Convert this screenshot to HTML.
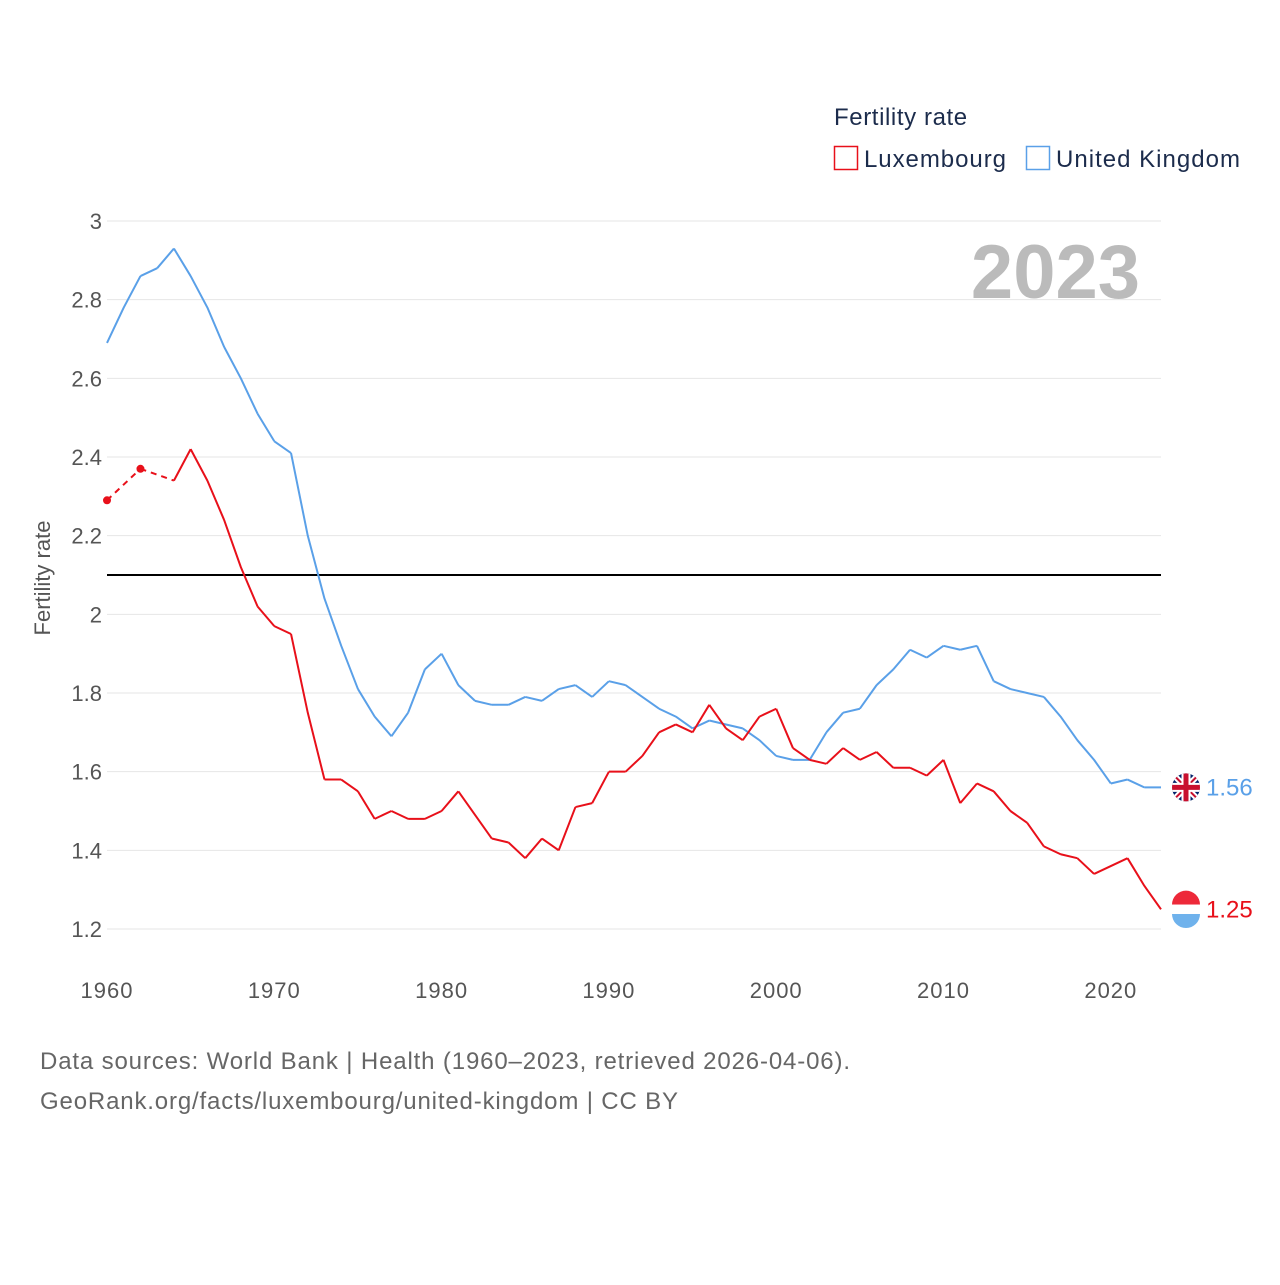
<!DOCTYPE html>
<html><head><meta charset="utf-8"><style>
body{margin:0;background:#fff;font-family:"Liberation Sans",sans-serif}
svg text{font-family:"Liberation Sans",sans-serif}
</style></head><body>
<svg id="chart" width="1280" height="1280">
<g id="grid"></g>
<g id="xaxis"></g>
<line id="refline" stroke="#000" stroke-width="2"/>
<g id="series"></g>
<text x="50" y="578" transform="rotate(-90 50 578)" fill="#555" font-size="22" text-anchor="middle">Fertility rate</text>
<text x="1140" y="298" fill="#bbb" font-size="76" font-weight="bold" text-anchor="end">2023</text>
<text x="834" y="125" fill="#1c2c4c" font-size="24" letter-spacing="0.6">Fertility rate</text>
<g>
<rect x="834.5" y="146.5" width="23" height="23" fill="none" stroke="#e8101a" stroke-width="1.5"/>
<text x="864" y="167" fill="#1c2c4c" font-size="24" textLength="142">Luxembourg</text></g>
<g>
<rect x="1026.5" y="146.5" width="23" height="23" fill="none" stroke="#5aa0e8" stroke-width="1.5"/>
<text x="1056" y="167" fill="#1c2c4c" font-size="24" textLength="184">United Kingdom</text></g>
<text x="40" y="1069" fill="#666" font-size="24" textLength="810">Data sources: World Bank | Health (1960–2023, retrieved 2026-04-06).</text>
<text x="40" y="1109" fill="#666" font-size="24" textLength="638">GeoRank.org/facts/luxembourg/united-kingdom | CC BY</text>
</svg>
<script>
const years=[];for(let y=1960;y<=2023;y++)years.push(y);
const ukValues=[2.69,2.78,2.86,2.88,2.93,2.86,2.78,2.68,2.60,2.51,2.44,2.41,2.20,2.04,1.92,1.81,1.74,1.69,1.75,1.86,1.90,1.82,1.78,1.77,1.77,1.79,1.78,1.81,1.82,1.79,1.83,1.82,1.79,1.76,1.74,1.71,1.73,1.72,1.71,1.68,1.64,1.63,1.63,1.70,1.75,1.76,1.82,1.86,1.91,1.89,1.92,1.91,1.92,1.83,1.81,1.80,1.79,1.74,1.68,1.63,1.57,1.58,1.56,1.56];
const luValues=[2.29,null,2.37,null,2.34,2.42,2.34,2.24,2.12,2.02,1.97,1.95,1.75,1.58,1.58,1.55,1.48,1.50,1.48,1.48,1.50,1.55,1.49,1.43,1.42,1.38,1.43,1.40,1.51,1.52,1.60,1.60,1.64,1.70,1.72,1.70,1.77,1.71,1.68,1.74,1.76,1.66,1.63,1.62,1.66,1.63,1.65,1.61,1.61,1.59,1.63,1.52,1.57,1.55,1.50,1.47,1.41,1.39,1.38,1.34,1.36,1.38,1.31,1.25];
const yTicks=[1.2,1.4,1.6,1.8,2,2.2,2.4,2.6,2.8,3];
const xTicks=[1960,1970,1980,1990,2000,2010,2020];
const refValue=2.1;
const NS="http://www.w3.org/2000/svg";
const X=y=>107+(y-1960)*(1161-107)/63;
const Y=v=>221+(3-v)*(929-221)/1.8;
function mk(t,a,p){const e=document.createElementNS(NS,t);for(const k in a)e.setAttribute(k,a[k]);p.appendChild(e);return e;}
const grid=document.getElementById('grid');
yTicks.forEach(v=>{
 const l=mk('line',{x1:107,x2:1161,y1:Y(v),y2:Y(v),stroke:'#e6e6e6','stroke-width':1},grid);
 
 
 const t=mk('text',{x:102,y:Y(v)+8,'text-anchor':'end',fill:'#555','font-size':22},grid);
 
 
 t.textContent=String(v);
});
const xa=document.getElementById('xaxis');
xTicks.forEach(v=>{
 const t=mk('text',{x:X(v),y:998,'text-anchor':'middle',fill:'#555','font-size':22,'letter-spacing':1},xa);
 
 
 t.textContent=String(v);
});
const rl=document.getElementById('refline');
rl.setAttribute('x1',107);rl.setAttribute('x2',1161);rl.setAttribute('y1',Y(refValue));rl.setAttribute('y2',Y(refValue));
const sg=document.getElementById('series');
function drawSeries(vals,color,name){
 let d='',pts=[];
 vals.forEach((v,i)=>{if(v!=null)pts.push([X(years[i]),Y(v),i]);});
 let dd='';
 for(let k=1;k<pts.length;k++){
  const a=pts[k-1],b=pts[k];
  const seg='M'+a[0]+','+a[1]+'L'+b[0]+','+b[1];
  if(b[2]-a[2]===1)d+=seg;else dd+=seg;
 }
 const p=mk('path',{d:d,fill:'none',stroke:color,'stroke-width':2,'stroke-linejoin':'round'},sg);
 
 
 if(dd){const q=mk('path',{d:dd,fill:'none',stroke:color,'stroke-width':2,'stroke-dasharray':'6,5'},sg);
  
  }
 pts.forEach(pt=>{
  const prev=vals[pt[2]-1],next=vals[pt[2]+1];
  if(prev==null&&next==null){
   const c=mk('circle',{cx:pt[0],cy:pt[1],r:4,fill:color},sg);
   
   
  }
 });
 const last=pts[pts.length-1];
 const t=mk('text',{x:1206,y:last[1]+8,fill:color,'font-size':24},sg);
 
 
 t.textContent=vals[vals.length-1].toFixed(2);
 return last;
}
const uk=drawSeries(ukValues,'#5aa0e8','united-kingdom');
const lu=drawSeries(luValues,'#e8101a','luxembourg');
function flagUK(cx,cy){
 const g=mk('g',{},sg);
 
 
 const cpth=mk('clipPath',{id:'cuk'},g);
 mk('circle',{cx:cx,cy:cy,r:14},cpth);
 const h=mk('g',{'clip-path':'url(#cuk)'},g);
 mk('rect',{x:cx-15,y:cy-15,width:30,height:30,fill:'#012169'},h);
 mk('path',{d:`M${cx-15},${cy-15}L${cx+15},${cy+15}M${cx+15},${cy-15}L${cx-15},${cy+15}`,stroke:'#fff','stroke-width':6},h);
 mk('path',{d:`M${cx-15},${cy-15}L${cx+15},${cy+15}M${cx+15},${cy-15}L${cx-15},${cy+15}`,stroke:'#c8102e','stroke-width':2},h);
 mk('path',{d:`M${cx},${cy-15}V${cy+15}M${cx-15},${cy}H${cx+15}`,stroke:'#fff','stroke-width':9},h);
 mk('path',{d:`M${cx},${cy-15}V${cy+15}M${cx-15},${cy}H${cx+15}`,stroke:'#c8102e','stroke-width':5},h);
}
function flagLU(cx,cy){
 const g=mk('g',{},sg);
 
 
 mk('path',{d:`M${cx-14},${cy-4.7}A14,14 0 0 1 ${cx+14},${cy-4.7}Z`,fill:'#ed2939'},g);
 mk('rect',{x:cx-14,y:cy-4.7,width:28,height:9.4,fill:'#fff'},g);
 mk('path',{d:`M${cx-14},${cy+4.7}A14,14 0 0 0 ${cx+14},${cy+4.7}Z`,fill:'#6fb2ec'},g);
}
flagUK(1186,uk[1]);
flagLU(1186,lu[1]);
</script>
</body></html>
